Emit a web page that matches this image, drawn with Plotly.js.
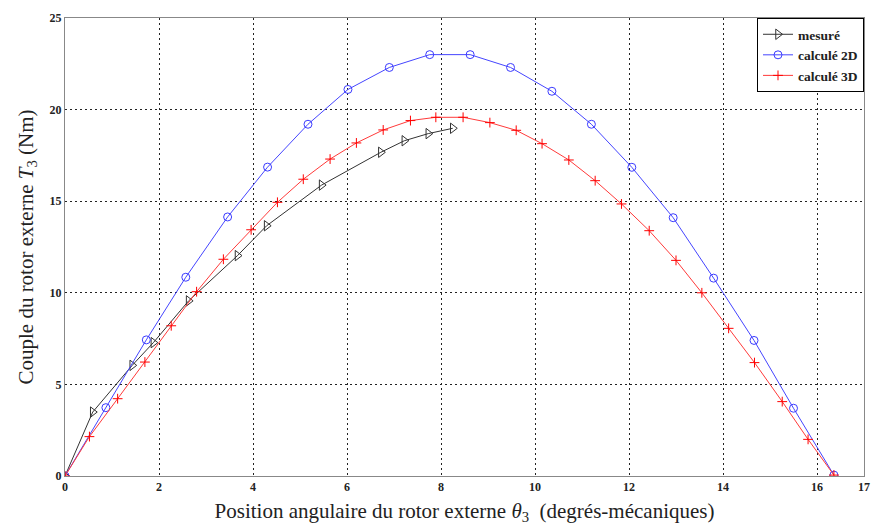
<!DOCTYPE html>
<html>
<head>
<meta charset="utf-8">
<script src="https://cdn.plot.ly/plotly-3.0.1.min.js"></script>
<style>html,body{margin:0;padding:0;background:#fff;}#chart{width:871px;height:525px;}</style>
</head>
<body>
<div id="chart"></div>
<script>
const seriesNames = ['mesuré', 'calculé 2D', 'calculé 3D'];

const mesX = [0, 0.59, 1.43, 1.88, 2.63, 3.67, 4.29, 5.46, 6.72, 7.22, 7.73, 8.25];
const mesY = [0, 3.49, 6.04, 7.28, 9.56, 12.03, 13.66, 15.88, 17.67, 18.3, 18.69, 18.98];

const c2dX = [0, 0.87, 1.73, 2.57, 3.46, 4.31, 5.17, 6.02, 6.9, 7.76, 8.62, 9.48, 10.36, 11.2, 12.06, 12.94, 13.8, 14.66, 15.5, 16.36];
const c2dY = [0, 3.73, 7.43, 10.85, 14.14, 16.86, 19.2, 21.1, 22.3, 23.0, 23.0, 22.3, 21.0, 19.2, 16.85, 14.1, 10.8, 7.4, 3.7, 0.05];

const c3dX = [0, 0.52, 1.12, 1.70, 2.26, 2.80, 3.37, 3.96, 4.52, 5.07, 5.64, 6.2, 6.77, 7.35, 7.89, 8.47, 9.04, 9.6, 10.15, 10.72, 11.28, 11.84, 12.43, 13.0, 13.55, 14.12, 14.67, 15.26, 15.81, 16.36];
const c3dY = [0, 2.15, 4.22, 6.22, 8.2, 10.06, 11.83, 13.44, 14.94, 16.2, 17.3, 18.18, 18.89, 19.4, 19.58, 19.58, 19.29, 18.87, 18.14, 17.25, 16.12, 14.85, 13.39, 11.77, 10.0, 8.06, 6.19, 4.06, 2.0, 0.05];

const xTicks = [0, 2, 4, 6, 8, 10, 12, 14, 16, 17];
const yTicks = [0, 5, 10, 15, 20, 25];

const traces = [
  {x: mesX, y: mesY, name: seriesNames[0], mode: 'lines+markers', type: 'scatter',
   line: {color: '#333', width: 1},
   marker: {symbol: 'triangle-right-open', size: 9, color: '#333', line: {width: 1, color: '#333'}}},
  {x: c2dX, y: c2dY, name: seriesNames[1], mode: 'lines+markers', type: 'scatter',
   line: {color: '#4545ff', width: 1},
   marker: {symbol: 'circle-open', size: 8, color: '#3a3aff', line: {width: 1, color: '#3a3aff'}}},
  {x: c3dX, y: c3dY, name: seriesNames[2], mode: 'lines+markers', type: 'scatter',
   line: {color: '#ff3a3a', width: 1},
   marker: {symbol: 'cross-thin-open', size: 7, color: '#ff0000', line: {width: 1, color: '#ff0000'}}}
];

const tickFont = {family: 'Liberation Serif, Times New Roman, serif', size: 12, color: '#222', weight: 'bold'};
const titleFont = {family: 'Liberation Serif, Times New Roman, serif', size: 21, color: '#222'};

const layout = {
  width: 871, height: 525,
  margin: {l: 65, r: 7, t: 18, b: 49},
  paper_bgcolor: '#fff', plot_bgcolor: '#fff',
  showlegend: true,
  legend: {x: 1, y: 1, xanchor: 'right', yanchor: 'top', bgcolor: '#fff', bordercolor: '#000', borderwidth: 1,
           font: {family: 'Liberation Serif, Times New Roman, serif', size: 13.5, color: '#222', weight: 'bold'},
           tracegroupgap: 0, itemwidth: 30},
  xaxis: {
    range: [0, 17], tickvals: xTicks, ticktext: xTicks.map(String),
    showgrid: true, gridcolor: '#222', griddash: '2px,3px', gridwidth: 1,
    zeroline: false, showline: true, linecolor: '#888', linewidth: 1, mirror: true,
    ticks: '', tickfont: tickFont,
    title: {text: 'Position angulaire du rotor externe <i>θ</i><sub>3</sub>  (degrés-mécaniques)', font: titleFont, standoff: 9}
  },
  yaxis: {
    range: [0, 25], tickvals: yTicks, ticktext: yTicks.map(String),
    showgrid: true, gridcolor: '#222', griddash: '2px,3px', gridwidth: 1,
    zeroline: false, showline: true, linecolor: '#888', linewidth: 1, mirror: true,
    ticks: '', tickfont: tickFont,
    title: {text: 'Couple du rotor externe <i>T</i><sub>3</sub> (Nm)', font: titleFont, standoff: 10}
  }
};

Plotly.newPlot('chart', traces, layout, {displayModeBar: false, staticPlot: true});
</script>
</body>
</html>
